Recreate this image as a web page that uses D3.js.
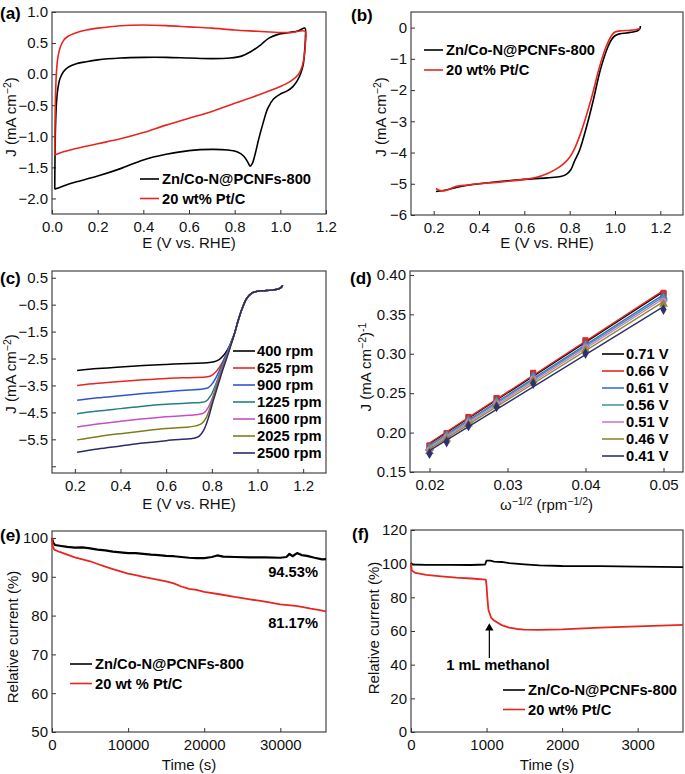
<!DOCTYPE html>
<html>
<head>
<meta charset="utf-8">
<script src="https://cdn.jsdelivr.net/npm/d3@7"></script>
<style>
  body { margin: 0; background: #fff; }
  text { font-family: "Liberation Sans", Arial, sans-serif; }
</style>
</head>
<body>
<script>
// ---- data ----

// (a) CV curves, loop order
var aZn = [[0.012,-1.85],[0.013,-1.4],[0.015,-0.9],[0.019,-0.5],[0.025,-0.25],[0.035,-0.07],[0.05,0.04],[0.07,0.11],[0.1,0.16],[0.15,0.2],[0.2,0.23],[0.3,0.26],[0.4,0.27],[0.5,0.27],[0.6,0.26],[0.7,0.25],[0.78,0.26],[0.83,0.29],[0.87,0.36],[0.91,0.46],[0.95,0.58],[0.99,0.64],[1.04,0.67],[1.08,0.7],[1.108,0.74],
  [1.11,0.6],[1.106,0.35],[1.1,0.15],[1.09,0.02],[1.075,-0.1],[1.055,-0.2],[1.03,-0.27],[1.0,-0.32],[0.97,-0.4],[0.945,-0.55],[0.925,-0.78],[0.905,-1.05],[0.89,-1.28],[0.877,-1.44],[0.868,-1.48],[0.858,-1.42],[0.84,-1.32],[0.81,-1.25],[0.77,-1.22],[0.7,-1.21],[0.6,-1.23],[0.5,-1.29],[0.4,-1.38],[0.3,-1.52],[0.2,-1.64],[0.1,-1.74],[0.05,-1.8],[0.02,-1.84],[0.012,-1.85]];
var aPt = [[0.012,-1.3],[0.013,-0.9],[0.015,-0.4],[0.019,0.0],[0.025,0.25],[0.035,0.42],[0.05,0.54],[0.07,0.61],[0.1,0.66],[0.15,0.71],[0.2,0.74],[0.3,0.78],[0.4,0.79],[0.5,0.78],[0.6,0.76],[0.7,0.74],[0.8,0.71],[0.9,0.69],[1.0,0.67],[1.05,0.67],[1.108,0.69],
  [1.11,0.5],[1.105,0.3],[1.095,0.12],[1.08,0.0],[1.05,-0.1],[1.0,-0.2],[0.9,-0.34],[0.8,-0.47],[0.7,-0.6],[0.6,-0.71],[0.5,-0.82],[0.4,-0.94],[0.3,-1.04],[0.2,-1.12],[0.1,-1.2],[0.05,-1.25],[0.02,-1.29],[0.012,-1.3]];

// (b) LSV curves
var bZn = [[0.21,-5.25],[0.25,-5.21],[0.3,-5.12],[0.35,-5.05],[0.4,-5.0],[0.5,-4.92],[0.6,-4.86],[0.7,-4.81],[0.76,-4.77],[0.785,-4.7],[0.805,-4.55],[0.82,-4.3],[0.845,-3.9],[0.875,-3.16],[0.905,-2.3],[0.934,-1.39],[0.964,-0.7],[0.985,-0.38],[1.0,-0.26],[1.02,-0.2],[1.05,-0.17],[1.08,-0.14],[1.1,-0.1],[1.11,-0.03],[1.112,0.05]];
var bPt = [[0.21,-5.15],[0.23,-5.22],[0.25,-5.22],[0.27,-5.17],[0.3,-5.08],[0.35,-5.04],[0.4,-5.0],[0.5,-4.94],[0.6,-4.86],[0.65,-4.8],[0.7,-4.68],[0.74,-4.53],[0.77,-4.38],[0.8,-4.15],[0.82,-3.9],[0.845,-3.45],[0.87,-2.9],[0.9,-2.15],[0.93,-1.3],[0.96,-0.62],[0.985,-0.25],[1.0,-0.14],[1.03,-0.1],[1.06,-0.09],[1.09,-0.07],[1.11,-0.03]];

// (c) LSV at rotation rates
var cRpm = ["400 rpm","625 rpm","900 rpm","1225 rpm","1600 rpm","2025 rpm","2500 rpm"];
var cColors = ["#000000","#e8261f","#2f55d4","#23827c","#c64fc8","#7d7d1a","#2b2b66"];
var cLower = [
  [[0.21,-2.94],[0.3,-2.87],[0.4,-2.81],[0.5,-2.76],[0.6,-2.72],[0.7,-2.68],[0.78,-2.66],[0.81,-2.62],[0.83,-2.55],[0.85,-2.4],[0.87,-2.15],[0.885,-1.88]],
  [[0.21,-3.5],[0.3,-3.42],[0.4,-3.35],[0.5,-3.29],[0.6,-3.24],[0.7,-3.21],[0.77,-3.19],[0.795,-3.15],[0.815,-3.02],[0.835,-2.8],[0.855,-2.5],[0.875,-2.13],[0.888,-1.85]],
  [[0.21,-4.05],[0.3,-3.96],[0.4,-3.88],[0.5,-3.8],[0.6,-3.73],[0.7,-3.67],[0.76,-3.63],[0.785,-3.58],[0.805,-3.4],[0.825,-3.1],[0.845,-2.7],[0.865,-2.3],[0.882,-1.95]],
  [[0.21,-4.55],[0.3,-4.45],[0.4,-4.36],[0.5,-4.27],[0.6,-4.2],[0.7,-4.15],[0.75,-4.13],[0.775,-4.08],[0.795,-3.88],[0.815,-3.5],[0.835,-3.05],[0.855,-2.6],[0.875,-2.13]],
  [[0.21,-5.04],[0.3,-4.93],[0.4,-4.83],[0.5,-4.74],[0.6,-4.66],[0.7,-4.61],[0.74,-4.58],[0.765,-4.52],[0.785,-4.3],[0.805,-3.9],[0.825,-3.35],[0.845,-2.85],[0.865,-2.4],[0.88,-2.05]],
  [[0.21,-5.52],[0.3,-5.4],[0.4,-5.29],[0.5,-5.19],[0.6,-5.1],[0.7,-5.04],[0.73,-5.0],[0.755,-4.92],[0.775,-4.7],[0.795,-4.25],[0.815,-3.7],[0.835,-3.15],[0.855,-2.65],[0.875,-2.2]],
  [[0.21,-5.98],[0.3,-5.86],[0.4,-5.75],[0.5,-5.64],[0.6,-5.55],[0.7,-5.48],[0.72,-5.46],[0.745,-5.38],[0.765,-5.15],[0.785,-4.7],[0.805,-4.1],[0.825,-3.55],[0.845,-3.0],[0.865,-2.5],[0.88,-2.1]]
];
var cUpper = [[0.9,-1.55],[0.915,-1.1],[0.93,-0.71],[0.952,-0.28],[0.975,-0.07],[1.0,0.0],[1.03,0.02],[1.06,0.04],[1.09,0.08],[1.105,0.15],[1.11,0.22]];

// (d) Koutecky-Levich
var dOmega = [0.02, 0.0222, 0.025, 0.0286, 0.0333, 0.04, 0.05];
var dPotentials = ["0.71 V","0.66 V","0.61 V","0.56 V","0.51 V","0.46 V","0.41 V"];
var dColors = ["#000000","#e8261f","#3a6fd8","#4a9a9a","#d07ad0","#8d8a2a","#303070"];
var dValues = [
  [0.183, 0.199, 0.219, 0.243, 0.275, 0.316, 0.376],
  [0.184, 0.1995, 0.220, 0.244, 0.276, 0.3174, 0.3775],
  [0.181, 0.197, 0.216, 0.240, 0.272, 0.312, 0.3725],
  [0.180, 0.196, 0.215, 0.239, 0.270, 0.310, 0.370],
  [0.178, 0.194, 0.213, 0.237, 0.268, 0.308, 0.367],
  [0.176, 0.192, 0.211, 0.235, 0.266, 0.305, 0.363],
  [0.1733, 0.188, 0.2085, 0.2326, 0.2623, 0.3004, 0.356]
];

// (e) chronoamperometry
var eZn = [[0,100],[150,98.8],[400,98.2],[1000,98.0],[2000,97.7],[3000,97.5],[4000,97.6],[5000,97.3],[6000,97.0],[7000,96.8],[8000,96.5],[9000,96.3],[10000,96.1],[11000,96.1],[12000,95.9],[13000,95.7],[14000,95.6],[15000,95.4],[16000,95.3],[17000,95.1],[18000,94.9],[19000,94.8],[20000,94.8],[21000,95.1],[21700,95.5],[22500,95.2],[24000,95.1],[26000,95.0],[28000,95.0],[30000,94.9],[30800,95.1],[31200,95.9],[31600,95.3],[32200,96.1],[32800,95.6],[33500,95.4],[34500,94.9],[35500,94.5],[36000,94.53]];
var ePt = [[0,100],[100,97.8],[300,97.0],[1000,96.4],[2000,95.7],[3000,95.0],[4000,94.5],[5000,94.0],[6000,93.3],[7000,92.6],[8000,92.0],[9000,91.4],[10000,90.8],[11000,90.4],[12000,90.0],[13000,89.6],[14000,89.2],[15000,88.8],[16000,88.3],[17000,87.5],[18000,86.9],[19000,86.6],[20000,86.1],[22000,85.5],[24000,84.8],[26000,84.2],[28000,83.6],[30000,82.9],[31000,82.7],[32000,82.5],[33000,82.2],[34000,81.8],[35000,81.5],[36000,81.1]];

// (f) methanol tolerance
var fZn = [[0,100.5],[20,99.5],[200,99.3],[500,99.3],[800,99.2],[980,99.5],[1000,101.8],[1050,101.8],[1100,101.2],[1200,101],[1300,100.3],[1500,99.6],[1700,99.0],[2000,98.6],[2500,98.5],[3000,98.3],[3600,98.0]];
var fPt = [[0,100],[10,96],[60,94.5],[200,93.3],[400,92.5],[600,91.7],[800,91.2],[990,90.5],[1000,87],[1010,80],[1025,72.5],[1060,68],[1100,66.2],[1200,63.5],[1300,62],[1400,61.2],[1500,60.8],[1700,60.7],[2000,61.0],[2500,62.0],[3000,62.8],[3600,63.6]];

var legendTwo = ["Zn/Co-N@PCNFs-800", "20 wt% Pt/C"];
var legendTwoE = ["Zn/Co-N@PCNFs-800", "20 wt % Pt/C"];
var pairColors = ["#000000", "#e8261f"];

// ---- drawing ----
var FRAME = "#333";
var FS = 15;      // tick and axis label size
var LFS = 14.7;   // legend size
var svg = d3.select("body").append("svg")
  .attr("width", 685)
  .attr("height", 774);

// text with superscript parts: parts = [[str, isSup], ...]
function rich(sel, parts) {
  var up = false;
  parts.forEach(function(p) {
    var t = sel.append("tspan").text(p[0]);
    if (p[1] && !up) { t.attr("dy", -5).attr("font-size", 10.5); up = true; }
    else if (p[1]) { t.attr("font-size", 10.5); }
    else if (!p[1] && up) { t.attr("dy", 5); up = false; }
  });
}

function makePanel(o) {
  var x = d3.scaleLinear().domain(o.xDomain).range([o.left, o.right]);
  var y = d3.scaleLinear().domain(o.yDomain).range([o.bottom, o.top]);
  var g = svg.append("g");

  var xa = g.append("g")
    .attr("transform", "translate(0," + o.bottom + ")")
    .call(d3.axisBottom(x).tickValues(o.xTicks).tickFormat(o.xFormat)
      .tickSizeInner(-4).tickSizeOuter(0).tickPadding(7));
  var ya = g.append("g")
    .attr("transform", "translate(" + o.left + ",0)")
    .call(d3.axisLeft(y).tickValues(o.yTicks).tickFormat(o.yFormat)
      .tickSizeInner(-4).tickSizeOuter(0).tickPadding(4));
  [xa, ya].forEach(function(a) {
    a.select(".domain").remove();
    a.selectAll(".tick line").attr("stroke", FRAME);
    a.selectAll(".tick text").attr("font-size", FS).attr("fill", "#111")
      .style("font-family", '"Liberation Sans", Arial, sans-serif');
  });

  g.append("rect")
    .attr("x", o.left).attr("y", o.top)
    .attr("width", o.right - o.left).attr("height", o.bottom - o.top)
    .attr("fill", "none").attr("stroke", FRAME).attr("stroke-width", 1.1);

  var xl = g.append("text")
    .attr("x", (o.left + o.right) / 2).attr("y", o.xLabelY)
    .attr("text-anchor", "middle").attr("font-size", FS).attr("fill", "#111");
  rich(xl, o.xLabel);

  var yl = g.append("text")
    .attr("transform", "translate(" + o.yLabelX + "," + o.yLabelY + ") rotate(-90)")
    .attr("text-anchor", "middle").attr("font-size", FS).attr("fill", "#111");
  rich(yl, o.yLabel);

  g.append("text")
    .attr("x", o.tagX).attr("y", o.tagY)
    .attr("font-size", 17).attr("font-weight", "bold")
    .text(o.tag);

  var plot = g.append("g");
  return { g: g, plot: plot, x: x, y: y };
}

function drawLine(p, pts, color, width, curve) {
  var line = d3.line()
    .x(function(d) { return p.x(d[0]); })
    .y(function(d) { return p.y(d[1]); })
    .curve(curve || d3.curveCatmullRom.alpha(0.5));
  p.plot.append("path")
    .datum(pts)
    .attr("d", line)
    .attr("fill", "none")
    .attr("stroke", color)
    .attr("stroke-width", width || 1.6)
    .attr("stroke-linejoin", "round");
}

function legend(g, x0, x1, tx, y0, step, labels, colors) {
  labels.forEach(function(lab, i) {
    var yy = y0 + i * step;
    g.append("line")
      .attr("x1", x0).attr("x2", x1).attr("y1", yy).attr("y2", yy)
      .attr("stroke", colors[i]).attr("stroke-width", 1.6);
    g.append("text")
      .attr("x", tx).attr("y", yy).attr("dy", "0.36em")
      .attr("font-size", LFS).attr("font-weight", "bold")
      .text(lab);
  });
}

var JLabel = [["J (mA cm", false], ["\u22122", true], [")", false]];
var ELabel = [["E (V vs. RHE)", false]];
var f1 = d3.format(".1f"), f0 = d3.format("d"), f2 = d3.format(".2f");

// (a)
var pa = makePanel({
  left: 52, right: 326, top: 12, bottom: 214,
  xDomain: [0, 1.2], yDomain: [-2.25, 1.0],
  xTicks: [0, 0.2, 0.4, 0.6, 0.8, 1.0, 1.2], xFormat: f1,
  yTicks: [-2, -1.5, -1, -0.5, 0, 0.5, 1.0], yFormat: f1,
  xLabel: ELabel, xLabelY: 248, yLabel: JLabel, yLabelX: 16, yLabelY: 117,
  tag: "(a)", tagX: 0, tagY: 19
});
drawLine(pa, aZn, pairColors[0]);
drawLine(pa, aPt, pairColors[1]);
legend(pa.g, 140, 159, 162, 179, 19.5, legendTwo, pairColors);

// (b)
var pb = makePanel({
  left: 411, right: 683, top: 12, bottom: 215,
  xDomain: [0.1, 1.3], yDomain: [-6, 0.5],
  xTicks: [0.2, 0.4, 0.6, 0.8, 1.0, 1.2], xFormat: f1,
  yTicks: [-6, -5, -4, -3, -2, -1, 0], yFormat: f0,
  xLabel: ELabel, xLabelY: 248, yLabel: JLabel, yLabelX: 386, yLabelY: 117,
  tag: "(b)", tagX: 351, tagY: 21
});
drawLine(pb, bZn, pairColors[0]);
drawLine(pb, bPt, pairColors[1]);
legend(pb.g, 424, 443, 446, 50, 20, legendTwo, pairColors);

// (c)
var pc = makePanel({
  left: 52, right: 326, top: 271, bottom: 473,
  xDomain: [0.1, 1.3], yDomain: [-6.75, 0.75],
  xTicks: [0.2, 0.4, 0.6, 0.8, 1.0, 1.2], xFormat: f1,
  yTicks: [-6.5, -5.5, -4.5, -3.5, -2.5, -1.5, -0.5, 0.5],
  yFormat: function(d) { return d < -6 ? "" : f1(d); },
  xLabel: ELabel, xLabelY: 509, yLabel: JLabel, yLabelX: 16, yLabelY: 374,
  tag: "(c)", tagX: 0, tagY: 284
});
cLower.forEach(function(pts, i) {
  drawLine(pc, pts.concat(cUpper), cColors[i], 1.5);
});
legend(pc.g, 233, 255, 257, 351, 17, cRpm, cColors);

// (d)
var pd = makePanel({
  left: 410, right: 683, top: 271, bottom: 472,
  xDomain: [0.0175, 0.0525], yDomain: [0.15, 0.405],
  xTicks: [0.02, 0.03, 0.04, 0.05], xFormat: f2,
  yTicks: [0.15, 0.2, 0.25, 0.3, 0.35, 0.4], yFormat: f2,
  xLabel: [["\u03c9", false], ["\u22121/2", true], [" (rpm", false], ["\u22121/2", true], [")", false]],
  xLabelY: 510,
  yLabel: [["J (mA cm", false], ["\u22122", true], [")", false], ["-1", true]],
  yLabelX: 371, yLabelY: 367,
  tag: "(d)", tagX: 350, tagY: 284
});
var dSymbols = [d3.symbolSquare, d3.symbolSquare, d3.symbolTriangle, d3.symbolTriangle, d3.symbolCircle, d3.symbolTriangle, d3.symbolDiamond];
dValues.forEach(function(vals, i) {
  // least-squares fit line through the points
  var pts = dOmega.map(function(w, k) { return [w, vals[k]]; });
  var mx = d3.mean(dOmega), my = d3.mean(vals);
  var sxy = d3.sum(pts, function(d) { return (d[0] - mx) * (d[1] - my); });
  var sxx = d3.sum(pts, function(d) { return (d[0] - mx) * (d[0] - mx); });
  var k = sxy / sxx, b = my - k * mx;
  var ends = [dOmega[0], dOmega[dOmega.length - 1]].map(function(w) { return [w, k * w + b]; });
  drawLine(pd, ends, dColors[i], 1.4, d3.curveLinear);
  pd.plot.selectAll(null)
    .data(pts).enter().append("path")
    .attr("transform", function(d) { return "translate(" + pd.x(d[0]) + "," + pd.y(d[1]) + ")"; })
    .attr("d", d3.symbol().type(dSymbols[i]).size(34))
    .attr("fill", dColors[i]);
});
legend(pd.g, 602, 624, 626, 354, 17, dPotentials, dColors);

// (e)
var pe = makePanel({
  left: 52, right: 326, top: 531, bottom: 732,
  xDomain: [0, 36000], yDomain: [50, 101.8],
  xTicks: [0, 10000, 20000, 30000], xFormat: f0,
  yTicks: [50, 60, 70, 80, 90, 100], yFormat: f0,
  xLabel: [["Time (s)", false]], xLabelY: 770,
  yLabel: [["Relative current (%)", false]], yLabelX: 18, yLabelY: 637,
  tag: "(e)", tagX: 0, tagY: 541
});
drawLine(pe, eZn, pairColors[0], 2.2, d3.curveLinear);
drawLine(pe, ePt, pairColors[1], 1.8, d3.curveLinear);
legend(pe.g, 70, 92, 95, 664, 19.5, legendTwoE, pairColors);
pe.g.append("text").attr("x", 318).attr("y", 577).attr("text-anchor", "end")
  .attr("font-size", LFS).attr("font-weight", "bold").text("94.53%");
pe.g.append("text").attr("x", 318).attr("y", 628).attr("text-anchor", "end")
  .attr("font-size", LFS).attr("font-weight", "bold").text("81.17%");

// (f)
var pf = makePanel({
  left: 411, right: 683, top: 530, bottom: 732,
  xDomain: [0, 3600], yDomain: [0, 120],
  xTicks: [0, 1000, 2000, 3000], xFormat: f0,
  yTicks: [0, 20, 40, 60, 80, 100, 120], yFormat: f0,
  xLabel: [["Time (s)", false]], xLabelY: 770,
  yLabel: [["Relative current (%)", false]], yLabelX: 379, yLabelY: 628,
  tag: "(f)", tagX: 352, tagY: 540
});
drawLine(pf, fZn, pairColors[0], 1.8, d3.curveLinear);
drawLine(pf, fPt, pairColors[1], 1.8, d3.curveLinear);
legend(pf.g, 503, 525, 528, 690, 19.5, legendTwo, pairColors);

// methanol arrow
var arrowX = 1037, arrowFrom = 44, arrowTo = 63.5;
pf.plot.append("line")
  .attr("x1", pf.x(arrowX)).attr("x2", pf.x(arrowX))
  .attr("y1", pf.y(arrowFrom)).attr("y2", pf.y(arrowTo) + 5)
  .attr("stroke", "#000").attr("stroke-width", 1.2);
pf.plot.append("path")
  .attr("transform", "translate(" + pf.x(arrowX) + "," + (pf.y(arrowTo) + 3) + ")")
  .attr("d", d3.symbol().type(d3.symbolTriangle).size(30))
  .attr("fill", "#000");
pf.plot.append("text")
  .attr("x", pf.x(1150)).attr("y", pf.y(37))
  .attr("text-anchor", "middle").attr("font-size", LFS).attr("font-weight", "bold")
  .text("1 mL methanol");
</script>
</body>
</html>
